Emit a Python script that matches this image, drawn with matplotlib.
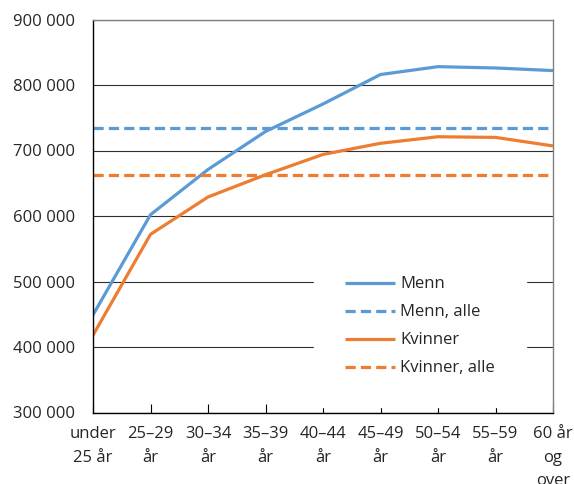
import matplotlib
matplotlib.use("Agg")
import matplotlib.pyplot as plt
from matplotlib.ticker import FuncFormatter

plt.rcParams['font.family'] = ['Open Sans', 'DejaVu Sans']

categories = ['under\n25 år', '25–29\når', '30–34\når', '35–39\når', '40–44\når',
              '45–49\når', '50–54\når', '55–59\når', '60 år\nog\nover']
menn = [449000, 602000, 671000, 729000, 771000, 816000, 828000, 826000, 822000]
kvinner = [418000, 572000, 629000, 663000, 694000, 711000, 721000, 720000, 707000]
menn_alle = 734000
kvinner_alle = 662000

blue = '#5B9BD5'
orange = '#ED7D31'

fig = plt.figure(figsize=(5.74, 4.84), dpi=100)
ax = fig.add_axes([93/574, 1-412.5/484, (553-93)/574, (412.5-19.5)/484])

x = list(range(len(categories)))
lw = 2.3
ax.plot(x, menn, color=blue, lw=lw, label='Menn', solid_capstyle='butt')
ax.plot(x, [menn_alle]*len(x), color=blue, lw=lw, ls=(0, (3.2, 1.6)), label='Menn, alle')
ax.plot(x, kvinner, color=orange, lw=lw, label='Kvinner', solid_capstyle='butt')
ax.plot(x, [kvinner_alle]*len(x), color=orange, lw=lw, ls=(0, (3.2, 1.6)), label='Kvinner, alle')

ax.set_xlim(0, len(categories)-1)
ax.set_ylim(300000, 900000)
ax.set_yticks(range(300000, 900001, 100000))
ax.yaxis.set_major_formatter(FuncFormatter(lambda v, p: f'{int(v):,}'.replace(',', ' ')))
ax.set_xticks(x)
ax.set_xticklabels(categories, linespacing=1.6)
ax.grid(axis='y', color='#303030', lw=0.8)
ax.set_axisbelow(True)

ax.tick_params(axis='y', length=0, pad=13, labelsize=12, colors='#262626')
ax.tick_params(axis='x', direction='in', length=6.5, width=0.8, pad=10, labelsize=12,
               colors='black', labelcolor='#262626')
for s in ['left', 'bottom']:
    ax.spines[s].set_color('black')
    ax.spines[s].set_linewidth(1.0)
for s in ['top', 'right']:
    ax.spines[s].set_color('#808080')
    ax.spines[s].set_linewidth(1.0)

leg = ax.legend(loc='center', bbox_to_anchor=((420-93)/460, 1-(326.5-19.5)/393),
                frameon=True, fontsize=12, handlelength=3.0, handletextpad=0.3,
                labelspacing=0.72, borderpad=1.85, borderaxespad=0)
leg.get_frame().set_facecolor('white')
leg.get_frame().set_edgecolor('white')
leg.get_frame().set_alpha(1)
leg.get_frame().set_boxstyle('square', pad=0)
for t in leg.get_texts():
    t.set_color('#262626')

fig.savefig('out.png', dpi=100)
